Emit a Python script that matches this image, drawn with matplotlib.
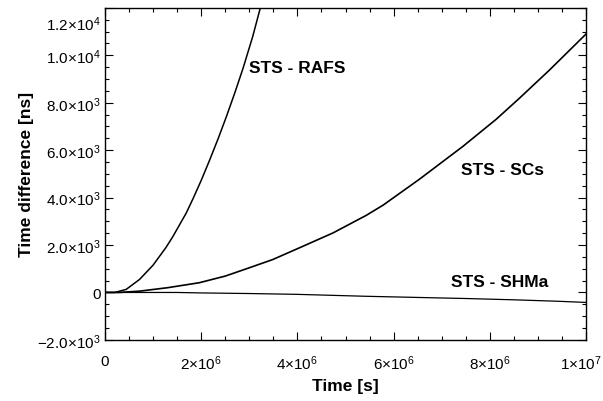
import matplotlib
matplotlib.use("Agg")
import matplotlib.pyplot as plt
import matplotlib.transforms as mtransforms
from matplotlib.ticker import MultipleLocator, FixedLocator

plt.rcParams['font.family'] = ['Liberation Sans', 'DejaVu Sans']
plt.rcParams['mathtext.fontset'] = 'custom'
plt.rcParams['mathtext.rm'] = 'Liberation Sans'
plt.rcParams['mathtext.it'] = 'Liberation Sans'
plt.rcParams['mathtext.bf'] = 'Liberation Sans:bold'

# Data
rafs_t = [0, 0.2e6, 0.44e6, 0.72e6, 1.0e6, 1.27e6, 1.41e6, 1.69e6, 1.83e6, 2.0e6, 2.17e6, 2.35e6,
          2.52e6, 2.7e6, 2.87e6, 3.07e6, 3.21e6, 3.3e6]
rafs_v = [0, 0, 126, 550, 1150, 1900, 2350, 3350, 3950, 4720, 5550, 6470,
          7390, 8420, 9450, 10780, 11850, 12500]

scs_t = [0, 0.3e6, 0.72e6, 1.3e6, 1.96e6, 2.5e6, 3.0e6, 3.49e6, 4.04e6, 4.74e6, 5.43e6, 5.78e6,
         6.54e6, 7.44e6, 8.13e6, 8.62e6, 9.24e6, 9.93e6, 1.0e7]
scs_v = [0, 0, 55, 200, 410, 690, 1040, 1390, 1880, 2510, 3250, 3680,
         4780, 6160, 7300, 8200, 9380, 10760, 10900]

shma_t = [0, 1.0e6, 1.5e6, 2.0e6, 3.0e6, 4.0e6, 5.4e6, 6.5e6, 7.5e6, 8.5e6, 9.4e6, 1.0e7]
shma_v = [0, 0, 0, -20, -45, -80, -160, -210, -255, -310, -370, -420]

labels = [("STS - RAFS", 4.0e6, 9470), ("STS - SCs", 8.27e6, 5180), ("STS - SHMa", 8.2e6, 460)]

xticks = [0, 2e6, 4e6, 6e6, 8e6, 1e7]
xticklabels = ["0", r"2$\times$10$^{6}$", r"4$\times$10$^{6}$", r"6$\times$10$^{6}$", r"8$\times$10$^{6}$", r"1$\times$10$^{7}$"]
yticks = [-2000, 0, 2000, 4000, 6000, 8000, 10000, 12000]
yticklabels = [r"$-$2.0$\times$10$^{3}$", "0", r"2.0$\times$10$^{3}$", r"4.0$\times$10$^{3}$",
               r"6.0$\times$10$^{3}$", r"8.0$\times$10$^{3}$", r"1.0$\times$10$^{4}$", r"1.2$\times$10$^{4}$"]

fig = plt.figure(figsize=(6.03, 4.02), dpi=100)
ax = fig.add_axes([0.174, 0.152, 0.798, 0.826])

ax.plot(rafs_t, rafs_v, color='black', lw=1.1)
ax.plot(scs_t, scs_v, color='black', lw=1.2)
ax.plot(shma_t, shma_v, color='black', lw=0.9)

for txt, x, y in labels:
    ax.text(x, y, txt, ha='center', va='center', fontsize=12.5, fontweight='bold')

ax.set_xlim(0, 1e7)
ax.set_ylim(-2000, 12000)
ax.xaxis.set_major_locator(FixedLocator(xticks))
ax.set_xticklabels(xticklabels)
ax.xaxis.set_minor_locator(MultipleLocator(5e5))
ax.yaxis.set_major_locator(FixedLocator(yticks))
ax.set_yticklabels(yticklabels)
ax.yaxis.set_minor_locator(MultipleLocator(500))

ax.tick_params(which='both', direction='in', top=True, right=True, width=0.8, color='black')
ax.tick_params(which='major', length=6, labelsize=11, colors='black')
ax.tick_params(which='minor', length=3)
ax.tick_params(axis='x', which='major', pad=10)
ax.tick_params(axis='y', which='major', pad=3)
for s in ax.spines.values():
    s.set_linewidth(1.0)

# shift top y label down and last x label left, as in reference
lab = ax.get_yticklabels()[-1]
lab.set_transform(lab.get_transform() + mtransforms.ScaledTranslation(0, -10/72, fig.dpi_scale_trans))
labx = ax.get_xticklabels()[-1]
labx.set_transform(labx.get_transform() + mtransforms.ScaledTranslation(-5/100, 0, fig.dpi_scale_trans))

ax.set_xlabel("Time [s]", fontsize=12.5, fontweight='bold', labelpad=4)
ax.set_ylabel("Time difference [ns]", fontsize=12.5, fontweight='bold', labelpad=2)

fig.savefig("out.png", dpi=100)
